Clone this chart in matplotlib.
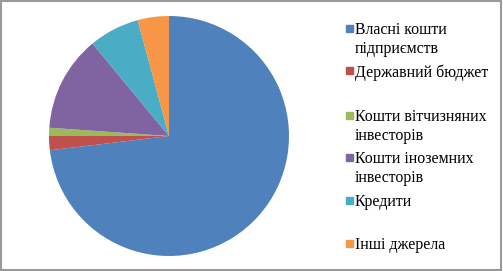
import matplotlib.pyplot as plt
from matplotlib.patches import Rectangle

labels = [
    "Власні кошти\nпідприємств",
    "Державний бюджет",
    "Кошти вітчизняних\nінвесторів",
    "Кошти іноземних\nінвесторів",
    "Кредити",
    "Інші джерела",
]
shares = [73.1, 1.9, 1.1, 12.9, 6.8, 4.2]
colors = ["#4F81BD", "#C0504D", "#9BBB59", "#8064A2", "#4BACC6", "#F79646"]

fig = plt.figure(figsize=(5.03, 2.71), dpi=100)
W, H = 503, 271

# pie: centre (169,136), radius 120 px
ax = fig.add_axes([(169 - 120) / W, 1 - (136 + 120) / H, 240 / W, 240 / H])
ax.pie(shares, colors=colors, startangle=90, counterclock=False,
       wedgeprops=dict(linewidth=0))
ax.set_aspect("equal")
ax.set_xlim(-1, 1)
ax.set_ylim(-1, 1)
ax.axis("off")

# legend drawn by hand (Excel-like uneven slots)
legend_y = [28, 71, 115, 157, 200, 243]  # first text line centre, px from top
line_h = 19
for lab, col, y in zip(labels, colors, legend_y):
    fig.patches.append(Rectangle((346 / W, 1 - (y + 3.5) / H), 7 / W, 7 / H,
                                 transform=fig.transFigure, color=col))
    for i, line in enumerate(lab.split("\n")):
        fig.text(355 / W, 1 - (y + 6 + i * line_h) / H, line, ha="left",
                 va="baseline", family="Liberation Serif", fontsize=11.4)

# outer frame
fig.patches.append(Rectangle((0.002, 0.004), 0.994, 0.992, transform=fig.transFigure,
                             fill=False, edgecolor="#9a9a9a", linewidth=1.5))

fig.savefig("out.png", dpi=100)
